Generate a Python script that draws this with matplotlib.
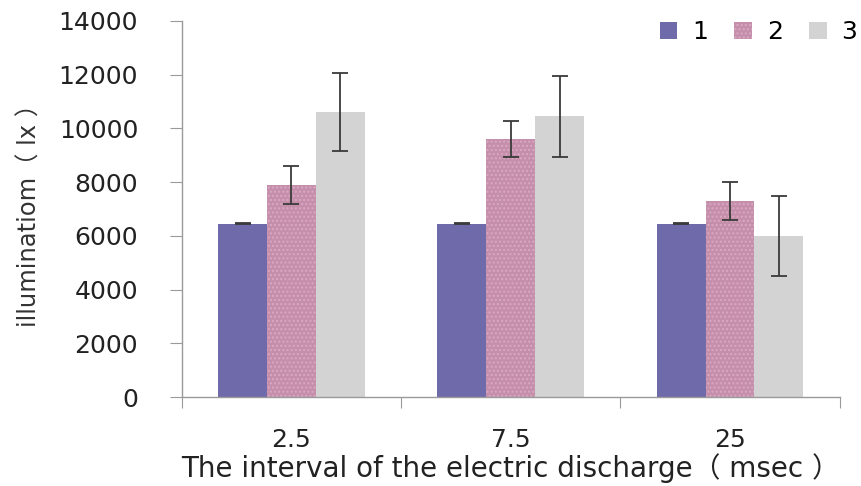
import matplotlib
matplotlib.use("Agg")
import matplotlib.pyplot as plt
import numpy as np

plt.rcParams['font.family'] = ['DejaVu Sans', 'Noto Sans CJK JP']

# data
intervals = ["2.5", "7.5", "25"]
series_names = ["1", "2", "3"]
means = [
    [6450, 6450, 6450],     # 1
    [7900, 9600, 7300],     # 2
    [10600, 10450, 6000],   # 3
]
errors = [
    [20, 20, 20],
    [700, 680, 700],
    [1450, 1500, 1500],
]
colors = ["#6f6aaa", "#c58eab", "#d3d3d3"]

fig = plt.figure(figsize=(8.62, 4.86), dpi=100)
ax = fig.add_axes([0.211, 0.183, 0.763, 0.774])

x = np.arange(len(intervals))
width = 0.223
for i, name in enumerate(series_names):
    pos = x + (i - 1) * width
    bars = ax.bar(pos, means[i], width, color=colors[i], label=name,
                  yerr=errors[i], capsize=5.5,
                  error_kw=dict(ecolor="#3a3a3a", elinewidth=1.3, capthick=1.3))
    if i == 1:
        for b in bars:
            b.set_hatch("....")
            b.set_edgecolor("#d9a9c1")
            b.set_linewidth(0)

ax.set_ylim(0, 14000)
ax.set_yticks(np.arange(0, 14001, 2000))
ax.set_xlim(-0.5, 2.5)
ax.set_xticks(np.arange(-0.5, 2.6, 1.0))
ax.set_xticklabels([])
ax.set_xticks(x, minor=True)
ax.set_xticklabels(intervals, minor=True)
ax.tick_params(axis="x", which="minor", length=0, pad=22, labelsize=18,
               labelcolor="#222222")
ax.tick_params(axis="x", which="major", length=8, color="#9a9a9a", direction="out")
ax.tick_params(axis="y", length=8.5, color="#9a9a9a", labelsize=18, pad=23,
               labelcolor="#222222")

for s in ["top", "right"]:
    ax.spines[s].set_visible(False)
for s in ["left", "bottom"]:
    ax.spines[s].set_color("#9a9a9a")
    ax.spines[s].set_linewidth(1.0)

ax.set_ylabel("illuminatiom\uff08 lx \uff09", fontsize=17.5, labelpad=12,
              color="#333333")
ax.set_xlabel("The interval of the electric discharge\uff08 msec \uff09",
              fontsize=20, labelpad=1, color="#222222")

fig.legend(loc="center left", bbox_to_anchor=(0.745, 0.934), ncol=3, frameon=False,
           fontsize=18, handlelength=0.7, handleheight=0.7, columnspacing=1.05,
           handletextpad=0.6, borderpad=0.2)

fig.savefig("out.png", dpi=100)
